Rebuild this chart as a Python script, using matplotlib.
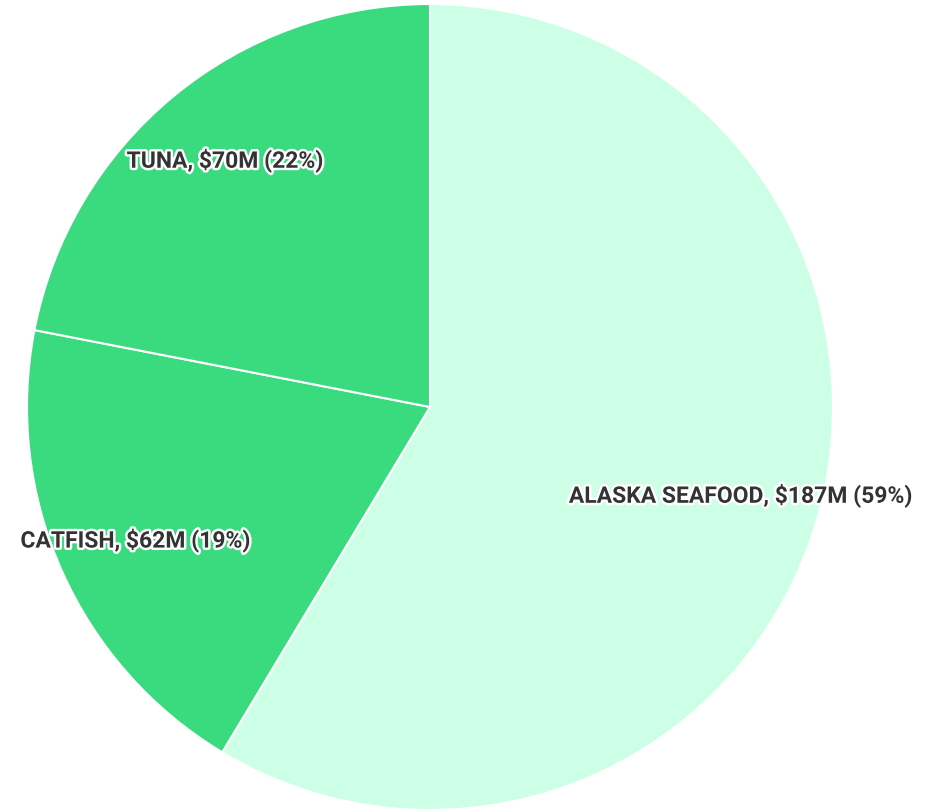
import matplotlib
matplotlib.use('Agg')
import matplotlib.pyplot as plt
import matplotlib.patheffects as pe

# data
categories = ['ALASKA SEAFOOD', 'CATFISH', 'TUNA']
values = [187, 62, 70]
colors = ['#ccffe5', '#3adb7f', '#3adb7f']

total = sum(values)
labels = [f'{c}, ${v}M ({round(v / total * 100)}%)' for c, v in zip(categories, values)]

fig = plt.figure(figsize=(9.44, 8.09), dpi=100)
ax = fig.add_axes([27 / 944, -1 / 809, 806 / 944, 806 / 809])

wedges, texts = ax.pie(values, colors=colors, startangle=90, counterclock=False,
                       labels=labels, labeldistance=0.8,
                       wedgeprops=dict(edgecolor='white', linewidth=1.5))
for t in texts:
    t.set_ha('center')
    t.set_va('center_baseline')
    t.set_fontfamily('Roboto')
    t.set_fontweight('bold')
    t.set_fontsize(16.5)
    t.set_color('#333333')
    t.set_path_effects([pe.withStroke(linewidth=3.5, foreground='white')])

ax.set_xlim(-1, 1)
ax.set_ylim(-1, 1)
ax.set_aspect('equal')
ax.axis('off')

fig.savefig('out.png', dpi=100)
